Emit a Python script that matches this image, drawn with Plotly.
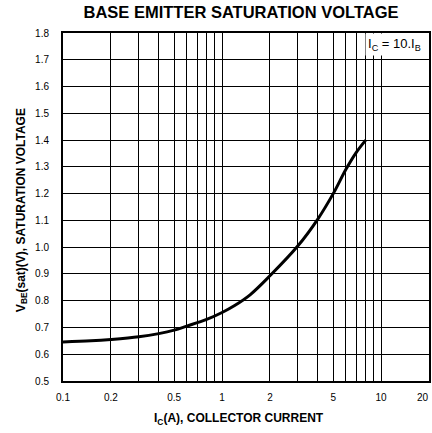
import plotly.graph_objects as go

# Data
ic_amps = [0.1, 0.15, 0.2, 0.3, 0.4, 0.5, 0.6, 0.8, 1.0, 1.2, 1.5, 2.0, 3.0, 4.0, 5.0, 6.0, 7.0, 8.0]
vbe_sat = [0.646, 0.650, 0.655, 0.665, 0.677, 0.690, 0.705, 0.730, 0.756, 0.782, 0.822, 0.893, 1.005, 1.105, 1.20, 1.29, 1.355, 1.40]

x_grid_vals = [0.1, 0.2, 0.3, 0.4, 0.5, 0.6, 0.7, 0.8, 0.9,
               1, 2, 3, 4, 5, 6, 7, 8, 9, 10, 20]
x_tick_vals = [0.1, 0.2, 0.5, 1, 2, 5, 10]
x_tick_text = ["0.1", "0.2", "0.5", "1", "2", "5", "10"]
x_last_label = "20"

y_tick_vals = [0.5, 0.6, 0.7, 0.8, 0.9, 1.0, 1.1, 1.2, 1.3, 1.4, 1.5, 1.6, 1.7, 1.8]
y_tick_text = ["0.5", "0.6", "0.7", "0.8", "0.9", "1.0", "1.1", "1.2", "1.3", "1.4", "1.5", "1.6", "1.7", "1.8"]

FONT = "Liberation Sans, Arial, Helvetica, sans-serif"

fig = go.Figure()
fig.add_trace(go.Scatter(
    x=ic_amps, y=vbe_sat, mode="lines",
    line=dict(color="black", width=3, shape="spline", smoothing=1),
    showlegend=False, hoverinfo="skip",
))

fig.update_layout(
    width=432, height=433,
    margin=dict(l=63, r=3, t=33, b=52),
    paper_bgcolor="white", plot_bgcolor="white",
    font=dict(family=FONT, color="black", size=10),
    title=dict(
        text="<b>BASE EMITTER SATURATION VOLTAGE</b>",
        font=dict(family=FONT, size=16.5, color="black"),
        x=241 / 432, xref="container", xanchor="center",
        y=1 - 12.5 / 433, yref="container", yanchor="middle",
    ),
    xaxis=dict(
        type="log", range=[-1, 1.30103], automargin=False,
        tickmode="array", tickvals=x_tick_vals, ticktext=x_tick_text,
        showgrid=True, gridcolor="black", gridwidth=1,
        minor=dict(tickmode="array", tickvals=x_grid_vals, showgrid=True,
                   gridcolor="black", gridwidth=1, ticks=""),
        showline=True, mirror=True, linecolor="black", linewidth=2,
        ticks="", ticklabelstandoff=6, zeroline=False,
        tickfont=dict(family=FONT, size=10, color="black"),
    ),
    yaxis=dict(
        range=[0.5, 1.8], automargin=False,
        tickmode="array", tickvals=y_tick_vals, ticktext=y_tick_text,
        showgrid=True, gridcolor="black", gridwidth=1,
        showline=True, mirror=True, linecolor="black", linewidth=2,
        ticks="", ticklabelstandoff=10, zeroline=False,
        tickfont=dict(family=FONT, size=10, color="black"),
    ),
    annotations=[
        dict(
            text=x_last_label,
            xref="paper", yref="paper", x=1.0, y=0, xshift=2, yshift=-9,
            xanchor="right", yanchor="top", showarrow=False,
            font=dict(family=FONT, size=10, color="black"),
        ),
        dict(
            text="<b>I<sub>C</sub>(A), COLLECTOR CURRENT</b>",
            xref="paper", yref="paper", x=0.481, y=-0.109,
            xanchor="center", yanchor="middle", showarrow=False,
            font=dict(family=FONT, size=12, color="black"),
        ),
        dict(
            text="<b>V<sub>BE</sub>(sat)(V), SATURATION VOLTAGE</b>",
            xref="paper", yref="paper", x=-0.112, y=0.491,
            xanchor="center", yanchor="middle", showarrow=False, textangle=-90,
            font=dict(family=FONT, size=12, color="black"),
        ),
        dict(
            text="I<sub>C</sub> = 10.I<sub>B</sub>",
            xref="paper", yref="paper", x=0.985, y=0.968,
            xanchor="right", yanchor="middle", showarrow=False,
            bgcolor="white", borderpad=2,
            font=dict(family=FONT, size=13, color="black"),
        ),
    ],
)

fig.write_html(
    "out.html",
    config={"displayModeBar": False},
    post_script="document.body.style.margin='0';document.body.style.padding='0';",
)
